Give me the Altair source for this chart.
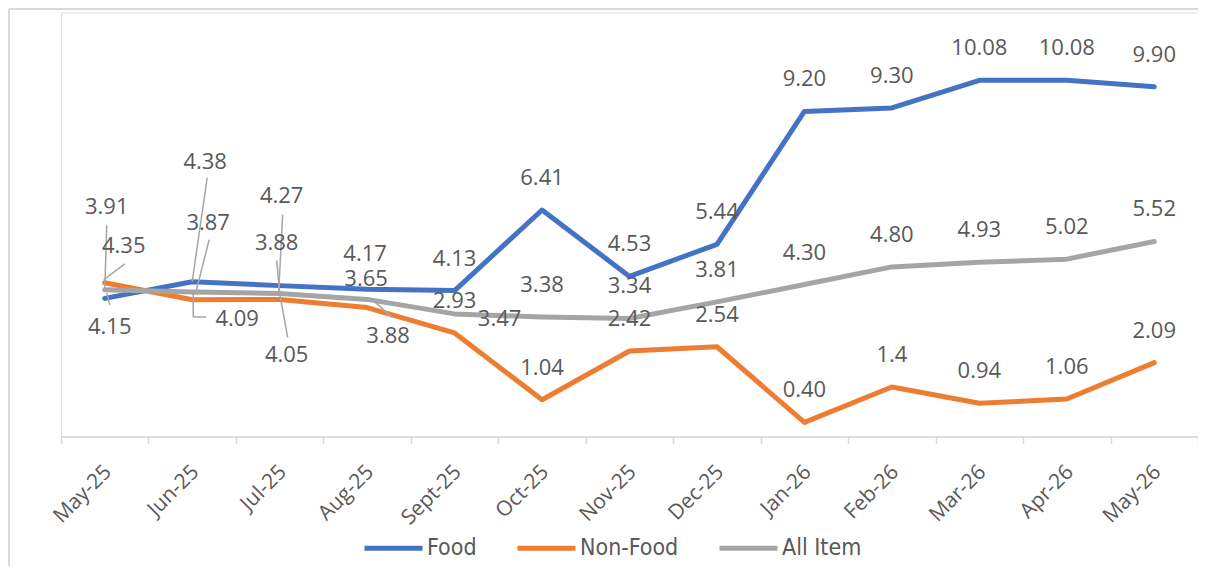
import json
import altair as alt
import pandas as pd

# ---------------- data ----------------
months = ["May-25", "Jun-25", "Jul-25", "Aug-25", "Sept-25", "Oct-25", "Nov-25",
          "Dec-25", "Jan-26", "Feb-26", "Mar-26", "Apr-26", "May-26"]
food = [3.91, 4.38, 4.27, 4.17, 4.13, 6.41, 4.53, 5.44, 9.20, 9.30, 10.08, 10.08, 9.90]
non_food = [4.35, 3.87, 3.88, 3.65, 2.93, 1.04, 2.42, 2.54, 0.40, 1.4, 0.94, 1.06, 2.09]
all_item = [4.15, 4.09, 4.05, 3.88, 3.47, 3.38, 3.34, 3.81, 4.30, 4.80, 4.93, 5.02, 5.52]
series_names = ["Food", "Non-Food", "All Item"]

food_text = [f"{v:.2f}" for v in food]
non_food_text = [f"{v:.2f}" for v in non_food]
non_food_text[9] = "1.4"
all_item_text = [f"{v:.2f}" for v in all_item]

# ---------------- styling / layout ----------------
colors = ["#4472C4", "#ED7D31", "#A5A5A5"]
W, H = 1137, 424
X_DOMAIN = [-0.5, 12.5]
Y_DOMAIN = [0, 12]
PX = W / (X_DOMAIN[1] - X_DOMAIN[0])
PY = H / (Y_DOMAIN[1] - Y_DOMAIN[0])

# label offsets (pixels, relative to the point): default is above the point
DEFAULT_OFF = (0, -32)
label_offsets = {
    ("Food", 0): (2, -91), ("Food", 1): (13, -120), ("Food", 2): (2, -90),
    ("Food", 3): (-2, -35),
    ("Non-Food", 0): (19, -37), ("Non-Food", 1): (16, -77), ("Non-Food", 2): (-3, -56),
    ("Non-Food", 3): (-1, -29),
    ("All Item", 0): (5, 37), ("All Item", 1): (45, 27), ("All Item", 2): (7, 62),
    ("All Item", 3): (21, 37), ("All Item", 4): (45, 5),
}
# leader lines: series, index, start offset, end offset (pixels)
leaders = [
    ("Food", 0, (0, -8), (2, -73)),
    ("Non-Food", 0, (-1, -3), (20, -19)),
    ("All Item", 0, (2, 3), (5, 15)),
    ("Food", 1, (0, 0), (15, -104)),
    ("Non-Food", 1, (3, -5), (17, -60)),
    ("All Item", 1, (1, 1), (1, 25)),
    ("All Item", 1, (1, 25), (14, 25)),
    ("Food", 2, (-1, 7), (3, -71)),
    ("Non-Food", 2, (0, -7), (-3, -39)),
    ("All Item", 2, (0, 0), (8, 44)),
    ("All Item", 3, (6, 1), (25, 18)),
]

values = {"Food": food, "Non-Food": non_food, "All Item": all_item}
texts = {"Food": food_text, "Non-Food": non_food_text, "All Item": all_item_text}

rows = []
for s in series_names:
    for i, m in enumerate(months):
        v = values[s][i]
        dx, dy = label_offsets.get((s, i), DEFAULT_OFF)
        rows.append({"series": s, "idx": i, "month": m, "value": v,
                     "label": texts[s][i],
                     "lx": i + dx / PX, "ly": v - dy / PY})
df = pd.DataFrame(rows)

lrows = []
for s, i, (sx, sy), (ex, ey) in leaders:
    v = values[s][i]
    lrows.append({"x": i + sx / PX, "y": v - sy / PY,
                  "x2": i + ex / PX, "y2": v - ey / PY})
ldf = pd.DataFrame(lrows)

LABEL_COLOR = "#595959"
AXIS_COLOR = "#D9D9D9"
DATA_FONT = "Open Sans"
AXIS_FONT = "Open Sans"
LEGEND_FONT = "Liberation Sans Narrow, DejaVu Sans Condensed, Liberation Sans"

x_scale = alt.Scale(domain=X_DOMAIN, nice=False, zero=False)
y_scale = alt.Scale(domain=Y_DOMAIN, nice=False, zero=False)

label_expr = ("datum.value < 12 ? " + json.dumps(months) +
              "[round(datum.value + 0.5)] : ''")

x_axis = alt.Axis(
    values=[i - 0.5 for i in range(14)],
    labelExpr=label_expr,
    labelOffset=PX / 2 + 3,
    labelAngle=315,
    labelAlign="right",
    labelBaseline="middle",
    labelPadding=25,
    labelFont=AXIS_FONT,
    labelFontSize=21,
    labelColor=LABEL_COLOR,
    labelFlush=False,
    labelOverlap=False,
    labelBound=False,
    domainColor=AXIS_COLOR,
    domainWidth=1.5,
    tickColor=AXIS_COLOR,
    tickWidth=1.5,
    tickSize=7,
    grid=False,
    title=None,
)

color = alt.Color(
    "series:N",
    scale=alt.Scale(domain=series_names, range=colors),
    sort=series_names,
    legend=alt.Legend(
        title=None,
        orient="none",
        legendX=301,
        legendY=504,
        direction="horizontal",
        symbolType="stroke",
        symbolStrokeWidth=5,
        symbolSize=3364,
        labelFont=LEGEND_FONT,
        labelFontSize=23,
        labelColor=LABEL_COLOR,
        labelOffset=2,
        columnPadding=30,
    ),
)

base = alt.Chart(df)

lines = base.mark_line(strokeWidth=5, strokeJoin="round", strokeCap="round").encode(
    x=alt.X("idx:Q", scale=x_scale, axis=x_axis),
    y=alt.Y("value:Q", scale=y_scale, axis=None),
    color=color,
    order=alt.Order("idx:Q"),
    detail="series:N",
)

labels = base.mark_text(font=DATA_FONT, fontSize=22, color=LABEL_COLOR,
                        align="center", baseline="middle").encode(
    x=alt.X("lx:Q", scale=x_scale),
    y=alt.Y("ly:Q", scale=y_scale),
    text="label:N",
)

leader_lines = alt.Chart(ldf).mark_rule(color="#A6A6A6", strokeWidth=1.5).encode(
    x=alt.X("x:Q", scale=x_scale),
    y=alt.Y("y:Q", scale=y_scale),
    x2="x2:Q",
    y2="y2:Q",
)

# chart frame (left and top edges; the others lie outside the picture)
one = alt.Data(values=[{}])
frame_left = alt.Chart(one).mark_rule(color=AXIS_COLOR, strokeWidth=2).encode(
    x=alt.value(-52), y=alt.value(-3.5), y2=alt.value(600))
frame_top = alt.Chart(one).mark_rule(color=AXIS_COLOR, strokeWidth=2).encode(
    x=alt.value(-52), x2=alt.value(1140), y=alt.value(-3.5))

chart = alt.layer(frame_left, frame_top,
                  lines, leader_lines, labels).properties(
    width=W, height=H,
    autosize=alt.AutoSizeParams(type="none"),
    padding={"left": 53, "top": 4.5, "right": 0, "bottom": 129.5},
).configure_view(strokeWidth=0, stroke="transparent").configure(background="white")

chart.save("out.html", embed_options={"renderer": "svg", "actions": False})
